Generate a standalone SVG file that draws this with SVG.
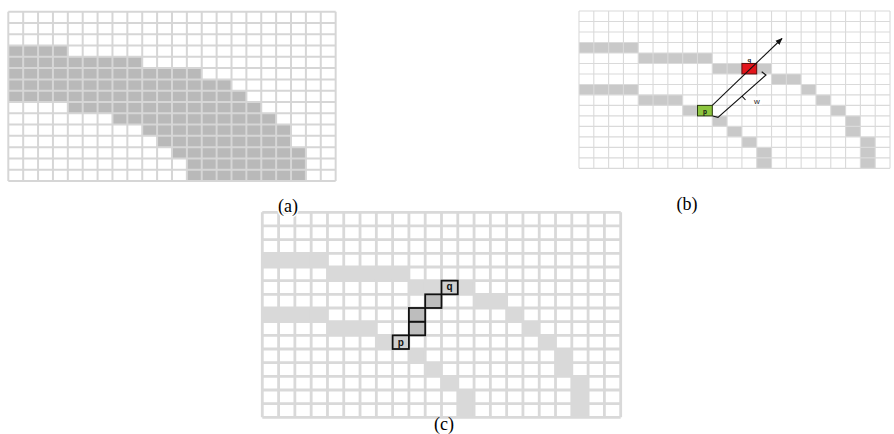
<svg xmlns="http://www.w3.org/2000/svg" width="894" height="434" viewBox="0 0 894 434">
<style>
.fa{fill:#b9b9b9}
.fb{fill:#c9c9c9}
.fc{fill:#d9d9d9}
.ga{fill:none;stroke:#d6d6d6;stroke-width:2}
.gb{fill:none;stroke:#dadada;stroke-width:1.1}
.gc{fill:none;stroke:#d9d9d9;stroke-width:2.8}
.lbl{font-family:"Liberation Serif",serif;font-size:18px;fill:#000;text-anchor:middle}
.halo{stroke:#fff;stroke-width:3;paint-order:stroke}
.tiny{font-family:"Liberation Sans",sans-serif;font-weight:bold;fill:#111;text-anchor:middle}
.conn{fill:none;stroke:#111;stroke-width:1.1}
.box{stroke:#111;stroke-width:1.8}
</style>
<defs>
<marker id="ah" viewBox="0 0 10 10" refX="9" refY="5" markerWidth="7" markerHeight="7" orient="auto" markerUnits="userSpaceOnUse">
<path d="M0 1 L10 5 L0 9 z" fill="#111"/>
</marker>
</defs>
<rect width="894" height="434" fill="#fff"/>

<g id="panel-a">
<g class="fa" transform="translate(8.3,11.67) scale(14.88,11.29)">
<rect x="0" y="3" width="4" height="1"/>
<rect x="0" y="4" width="9" height="1"/>
<rect x="0" y="5" width="13" height="1"/>
<rect x="0" y="6" width="15" height="1"/>
<rect x="0" y="7" width="16" height="1"/>
<rect x="4" y="8" width="13" height="1"/>
<rect x="7" y="9" width="11" height="1"/>
<rect x="9" y="10" width="10" height="1"/>
<rect x="10" y="11" width="9" height="1"/>
<rect x="11" y="12" width="9" height="1"/>
<rect x="12" y="13" width="8" height="1"/>
<rect x="12" y="14" width="8" height="1"/>
</g>
<path class="ga" d="M8.3 11.67V181.02M23.18 11.67V181.02M38.06 11.67V181.02M52.94 11.67V181.02M67.82 11.67V181.02M82.7 11.67V181.02M97.58 11.67V181.02M112.46 11.67V181.02M127.34 11.67V181.02M142.22 11.67V181.02M157.1 11.67V181.02M171.98 11.67V181.02M186.86 11.67V181.02M201.74 11.67V181.02M216.62 11.67V181.02M231.5 11.67V181.02M246.38 11.67V181.02M261.26 11.67V181.02M276.14 11.67V181.02M291.02 11.67V181.02M305.9 11.67V181.02M320.78 11.67V181.02M335.66 11.67V181.02M8.3 11.67H335.66M8.3 22.96H335.66M8.3 34.25H335.66M8.3 45.54H335.66M8.3 56.83H335.66M8.3 68.12H335.66M8.3 79.41H335.66M8.3 90.7H335.66M8.3 101.99H335.66M8.3 113.28H335.66M8.3 124.57H335.66M8.3 135.86H335.66M8.3 147.15H335.66M8.3 158.44H335.66M8.3 169.73H335.66M8.3 181.02H335.66"/>
</g>

<g id="panel-b">
<g class="fb" transform="translate(579,11) scale(14.81,10.49)">
<rect x="0" y="3" width="4" height="1"/>
<rect x="4" y="4" width="5" height="1"/>
<rect x="9" y="5" width="2" height="1"/>
<rect x="12" y="5" width="1" height="1"/>
<rect x="13" y="6" width="2" height="1"/>
<rect x="0" y="7" width="4" height="1"/>
<rect x="15" y="7" width="1" height="1"/>
<rect x="4" y="8" width="3" height="1"/>
<rect x="16" y="8" width="1" height="1"/>
<rect x="7" y="9" width="1" height="1"/>
<rect x="17" y="9" width="1" height="1"/>
<rect x="9" y="10" width="1" height="1"/>
<rect x="18" y="10" width="1" height="1"/>
<rect x="10" y="11" width="1" height="1"/>
<rect x="18" y="11" width="1" height="1"/>
<rect x="11" y="12" width="1" height="1"/>
<rect x="19" y="12" width="1" height="1"/>
<rect x="12" y="13" width="1" height="1"/>
<rect x="19" y="13" width="1" height="1"/>
<rect x="12" y="14" width="1" height="1"/>
<rect x="19" y="14" width="1" height="1"/>
</g>
<path class="gb" d="M579 11V168.35M593.81 11V168.35M608.62 11V168.35M623.43 11V168.35M638.24 11V168.35M653.05 11V168.35M667.86 11V168.35M682.67 11V168.35M697.48 11V168.35M712.29 11V168.35M727.1 11V168.35M741.91 11V168.35M756.72 11V168.35M771.53 11V168.35M786.34 11V168.35M801.15 11V168.35M815.96 11V168.35M830.77 11V168.35M845.58 11V168.35M860.39 11V168.35M875.2 11V168.35M890.01 11V168.35M579 11H890.01M579 21.49H890.01M579 31.98H890.01M579 42.47H890.01M579 52.96H890.01M579 63.45H890.01M579 73.94H890.01M579 84.43H890.01M579 94.92H890.01M579 105.41H890.01M579 115.9H890.01M579 126.39H890.01M579 136.88H890.01M579 147.37H890.01M579 157.86H890.01M579 168.35H890.01"/>
<text class="lbl" x="687" y="210">(b)</text>
</g>

<g id="node-q-b">
<rect x="741.9" y="63.45" width="14.8" height="10.5" fill="#e3141b" stroke="#5a0a0a" stroke-width="1"/>
<text class="tiny" x="749.3" y="62" font-size="6">q</text>
</g>
<g id="node-p-b">
<rect x="697.5" y="105.4" width="14.8" height="10.5" fill="#8dc63f" stroke="#2a3a10" stroke-width="1"/>
<text class="tiny" x="705" y="113.5" font-size="6.5">p</text>
</g>

<g id="panel-c">
<g class="fc" transform="translate(262.3,212.3) scale(16.29,13.67)">
<rect x="0" y="3" width="4" height="1"/>
<rect x="4" y="4" width="5" height="1"/>
<rect x="9" y="5" width="2" height="1"/>
<rect x="12" y="5" width="1" height="1"/>
<rect x="13" y="6" width="2" height="1"/>
<rect x="0" y="7" width="4" height="1"/>
<rect x="15" y="7" width="1" height="1"/>
<rect x="4" y="8" width="3" height="1"/>
<rect x="16" y="8" width="1" height="1"/>
<rect x="7" y="9" width="1" height="1"/>
<rect x="17" y="9" width="1" height="1"/>
<rect x="9" y="10" width="1" height="1"/>
<rect x="18" y="10" width="1" height="1"/>
<rect x="10" y="11" width="1" height="1"/>
<rect x="18" y="11" width="1" height="1"/>
<rect x="11" y="12" width="1" height="1"/>
<rect x="19" y="12" width="1" height="1"/>
<rect x="12" y="13" width="1" height="1"/>
<rect x="19" y="13" width="1" height="1"/>
<rect x="12" y="14" width="1" height="1"/>
<rect x="19" y="14" width="1" height="1"/>
</g>
<path class="gc" d="M262.3 212.3V417.35M278.59 212.3V417.35M294.88 212.3V417.35M311.17 212.3V417.35M327.46 212.3V417.35M343.75 212.3V417.35M360.04 212.3V417.35M376.33 212.3V417.35M392.62 212.3V417.35M408.91 212.3V417.35M425.2 212.3V417.35M441.49 212.3V417.35M457.78 212.3V417.35M474.07 212.3V417.35M490.36 212.3V417.35M506.65 212.3V417.35M522.94 212.3V417.35M539.23 212.3V417.35M555.52 212.3V417.35M571.81 212.3V417.35M588.1 212.3V417.35M604.39 212.3V417.35M620.68 212.3V417.35M262.3 212.3H620.68M262.3 225.97H620.68M262.3 239.64H620.68M262.3 253.31H620.68M262.3 266.98H620.68M262.3 280.65H620.68M262.3 294.32H620.68M262.3 307.99H620.68M262.3 321.66H620.68M262.3 335.33H620.68M262.3 349H620.68M262.3 362.67H620.68M262.3 376.34H620.68M262.3 390.01H620.68M262.3 403.68H620.68M262.3 417.35H620.68"/>
<text class="lbl" x="444" y="430">(c)</text>
</g>

<text id="label-a" class="lbl halo" x="288" y="212">(a)</text>

<g id="step-1"><rect class="box" x="408.91" y="321.66" width="16.29" height="13.67" fill="#bdbdbd"/></g>
<g id="step-2"><rect class="box" x="408.91" y="307.99" width="16.29" height="13.67" fill="#bdbdbd"/></g>
<g id="step-3"><rect class="box" x="425.2" y="294.32" width="16.29" height="13.67" fill="#bdbdbd"/></g>
<g id="node-p-c">
<rect class="box" x="392.62" y="335.33" width="16.29" height="13.67" fill="#d0d0d0"/>
<text class="tiny" x="400.8" y="345.8" font-size="10">p</text>
</g>
<g id="node-q-c">
<rect class="box" x="441.49" y="280.65" width="16.29" height="13.67" fill="#d0d0d0"/>
<text class="tiny" x="449.6" y="290.4" font-size="10">q</text>
</g>

<g id="connectors">
<line class="conn" x1="712.3" y1="105.4" x2="782" y2="38.5" marker-end="url(#ah)"/>
<polyline class="conn" points="712.7,116 718,117.4 766,75 761.7,71.8"/>
<line class="conn" x1="742" y1="96.2" x2="745.5" y2="100"/>
</g>
<g id="label-w">
<rect x="752" y="96.5" width="10" height="8" fill="#fff"/>
<text x="757" y="103.5" font-family="Liberation Sans,sans-serif" font-size="8" fill="#222" text-anchor="middle">w</text>
</g>
</svg>
